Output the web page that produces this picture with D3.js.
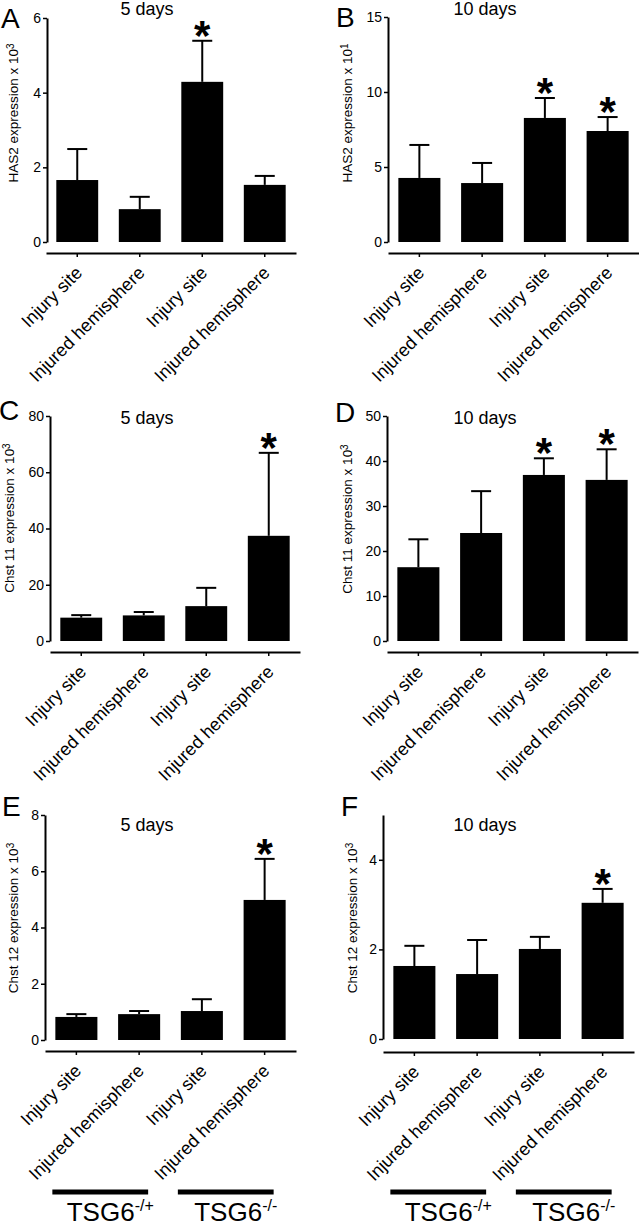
<!DOCTYPE html>
<html>
<head>
<meta charset="utf-8">
<script src="https://cdn.jsdelivr.net/npm/d3@7"></script>
<style>
  html, body { margin: 0; padding: 0; background: #fff; }
  svg { display: block; font-family: "Liberation Sans", Arial, sans-serif; }
</style>
</head>
<body>
<svg id="chart" width="639" height="1228"></svg>
<script>
// ---------------- DATA ----------------
const categories = ["Injury site", "Injured hemisphere", "Injury site", "Injured hemisphere"];
const genotypeBase = "TSG6";
const genotypeSup = ["-/+", "-/-"];
const dayTitles = ["5 days", "10 days"];

// HAS2 (A: 5 days, x10^3; B: 10 days, x10^1)
const has2Day5Mean = [1.66, 0.88, 4.29, 1.53];
const has2Day5Err  = [0.83, 0.33, 1.10, 0.24];
const has2Day5Sig  = [false, false, true, false];
const has2Day10Mean = [4.27, 3.93, 8.27, 7.40];
const has2Day10Err  = [2.20, 1.34, 1.33, 0.93];
const has2Day10Sig  = [false, false, true, true];

// Chst 11 (C: 5 days, D: 10 days, x10^3)
const chst11Day5Mean = [8.3, 9.1, 12.4, 37.4];
const chst11Day5Err  = [0.9, 1.2, 6.5, 29.5];
const chst11Day5Sig  = [false, false, false, true];
const chst11Day10Mean = [16.4, 24.0, 36.9, 35.8];
const chst11Day10Err  = [6.2, 9.3, 3.7, 6.8];
const chst11Day10Sig  = [false, false, true, true];

// Chst 12 (E: 5 days, F: 10 days, x10^3)
const chst12Day5Mean = [0.82, 0.92, 1.03, 4.98];
const chst12Day5Err  = [0.10, 0.11, 0.42, 1.46];
const chst12Day5Sig  = [false, false, false, true];
const chst12Day10Mean = [1.63, 1.45, 2.01, 3.04];
const chst12Day10Err  = [0.45, 0.76, 0.27, 0.31];
const chst12Day10Sig  = [false, false, false, true];

// y-axis ticks
const ticksA = [0, 2, 4, 6];
const ticksB = [0, 5, 10, 15];
const ticksC = [0, 20, 40, 60, 80];
const ticksD = [0, 10, 20, 30, 40, 50];
const ticksE = [0, 2, 4, 6, 8];
const ticksF = [0, 2, 4];

// y-axis labels
const yLabelHas2 = "HAS2 expression x 10";
const yLabelChst11 = "Chst 11 expression x 10";
const yLabelChst12 = "Chst 12 expression x 10";

// ---------------- LAYOUT ----------------
const panels = [
  { letter: "A", letterX: 1, letterY: 28, title: dayTitles[0], titleX: 147, titleY: 15,
    mean: has2Day5Mean, err: has2Day5Err, sig: has2Day5Sig, yMax: 6, ticks: ticksA,
    yAxisX: 47, y0: 242, yTop: 18, xAxisY: 253, x0: 46, x1: 296,
    yLabel: yLabelHas2, yExp: "3", yLabelX: 18, yLabelY: 113 },
  { letter: "B", letterX: 336, letterY: 27, title: dayTitles[1], titleX: 485, titleY: 15,
    mean: has2Day10Mean, err: has2Day10Err, sig: has2Day10Sig, yMax: 15, ticks: ticksB,
    yAxisX: 388, y0: 242, yTop: 17, xAxisY: 253, x0: 388, x1: 639,
    yLabel: yLabelHas2, yExp: "1", yLabelX: 352, yLabelY: 113 },
  { letter: "C", letterX: -1, letterY: 420, title: dayTitles[0], titleX: 147, titleY: 424,
    mean: chst11Day5Mean, err: chst11Day5Err, sig: chst11Day5Sig, yMax: 80, ticks: ticksC,
    yAxisX: 50, y0: 641, yTop: 416, xAxisY: 652, x0: 50, x1: 300,
    yLabel: yLabelChst11, yExp: "3", yLabelX: 14, yLabelY: 518 },
  { letter: "D", letterX: 335, letterY: 422, title: dayTitles[1], titleX: 485, titleY: 424,
    mean: chst11Day10Mean, err: chst11Day10Err, sig: chst11Day10Sig, yMax: 50, ticks: ticksD,
    yAxisX: 387, y0: 641, yTop: 416, xAxisY: 652, x0: 387, x1: 638,
    yLabel: yLabelChst11, yExp: "3", yLabelX: 352, yLabelY: 519 },
  { letter: "E", letterX: 2, letterY: 816, title: dayTitles[0], titleX: 147, titleY: 831,
    mean: chst12Day5Mean, err: chst12Day5Err, sig: chst12Day5Sig, yMax: 8, ticks: ticksE,
    yAxisX: 45, y0: 1040, yTop: 815, xAxisY: 1051, x0: 45, x1: 296,
    yLabel: yLabelChst12, yExp: "3", yLabelX: 18, yLabelY: 918, groups: true },
  { letter: "F", letterX: 341, letterY: 816, title: dayTitles[1], titleX: 485, titleY: 831,
    mean: chst12Day10Mean, err: chst12Day10Err, sig: chst12Day10Sig, yMax: 5, ticks: ticksF,
    yAxisX: 383, y0: 1039, yTop: 815, xAxisY: 1052, x0: 383, x1: 634,
    yLabel: yLabelChst12, yExp: "3", yLabelX: 357, yLabelY: 918, groups: true }
];

const svg = d3.select("#chart");

function drawPanel(p) {
  const g = svg.append("g");
  const y = d3.scaleLinear().domain([0, p.yMax]).range([p.y0, p.yTop]);
  const x = d3.scaleBand().domain(d3.range(categories.length))
    .range([p.x0, p.x1]).paddingInner(0.33).paddingOuter(0.165);
  const cx = i => x(i) + x.bandwidth() / 2;

  // panel letter
  g.append("text").attr("x", p.letterX).attr("y", p.letterY)
    .attr("font-size", 28).text(p.letter);
  // title
  g.append("text").attr("x", p.titleX).attr("y", p.titleY)
    .attr("text-anchor", "middle").attr("font-size", 18).text(p.title);

  // y axis
  const yAx = g.append("g").attr("transform", `translate(${p.yAxisX},0)`)
    .call(d3.axisLeft(y).tickValues(p.ticks).tickSize(4).tickSizeOuter(0).tickPadding(2)
      .tickFormat(d3.format("d")));
  yAx.select(".domain").attr("stroke-width", 2);
  yAx.selectAll(".tick line").attr("stroke-width", 1.5);
  yAx.selectAll(".tick text").attr("font-size", 14)
    .attr("font-family", "Liberation Sans, Arial, sans-serif").attr("fill", "#000");

  // y label
  const yl = g.append("text")
    .attr("transform", `translate(${p.yLabelX},${p.yLabelY}) rotate(-90)`)
    .attr("text-anchor", "middle").attr("font-size", 13.5);
  yl.append("tspan").text(p.yLabel);
  yl.append("tspan").attr("dy", "-0.45em").attr("font-size", 10).text(p.yExp);

  // x axis
  const xAx = g.append("g").attr("transform", `translate(0,${p.xAxisY})`)
    .call(d3.axisBottom(x).tickSize(4).tickSizeOuter(0).tickFormat(i => categories[i]));
  xAx.select(".domain").attr("stroke-width", 2);
  xAx.selectAll(".tick line").attr("stroke-width", 1.5);
  xAx.selectAll(".tick text")
    .attr("font-size", 18).attr("font-family", "Liberation Sans, Arial, sans-serif")
    .attr("fill", "#000")
    .attr("text-anchor", "end").attr("x", 0).attr("y", 0).attr("dy", 0)
    .attr("transform", "translate(6,21) rotate(-45)");

  // bars
  const idx = d3.range(categories.length);
  g.selectAll("rect.bar").data(idx).enter().append("rect")
    .attr("x", i => x(i)).attr("width", x.bandwidth())
    .attr("y", i => y(p.mean[i])).attr("height", i => y(0) - y(p.mean[i]))
    .attr("fill", "#000");

  // error bars (upper only)
  g.selectAll("line.err").data(idx).enter().append("line")
    .attr("x1", cx).attr("x2", cx)
    .attr("y1", i => y(p.mean[i])).attr("y2", i => y(p.mean[i] + p.err[i]))
    .attr("stroke", "#000").attr("stroke-width", 2);
  g.selectAll("line.cap").data(idx).enter().append("line")
    .attr("x1", i => cx(i) - 10).attr("x2", i => cx(i) + 10)
    .attr("y1", i => y(p.mean[i] + p.err[i])).attr("y2", i => y(p.mean[i] + p.err[i]))
    .attr("stroke", "#000").attr("stroke-width", 2);

  // significance stars
  g.selectAll("text.star").data(idx.filter(i => p.sig[i])).enter().append("text")
    .attr("x", cx).attr("y", i => y(p.mean[i] + p.err[i]) + 9)
    .attr("text-anchor", "middle").attr("font-size", 42).attr("font-weight", "bold")
    .text("*");

  // genotype group bars
  if (p.groups) {
    const spans = [[0, 1], [2, 3]];
    const gy = 1192;
    spans.forEach((s, k) => {
      const xa = x(s[0]) - 3, xb = x(s[1]) + x.bandwidth() - 12;
      g.append("line").attr("x1", xa).attr("x2", xb).attr("y1", gy).attr("y2", gy)
        .attr("stroke", "#000").attr("stroke-width", 5);
      const t = g.append("text").attr("x", (xa + xb) / 2 + 10).attr("y", 1221)
        .attr("text-anchor", "middle").attr("font-size", 26);
      t.append("tspan").text(genotypeBase);
      t.append("tspan").attr("dy", "-0.62em").attr("font-size", 16).text(genotypeSup[k]);
    });
  }
}

panels.forEach(drawPanel);
</script>
</body>
</html>
